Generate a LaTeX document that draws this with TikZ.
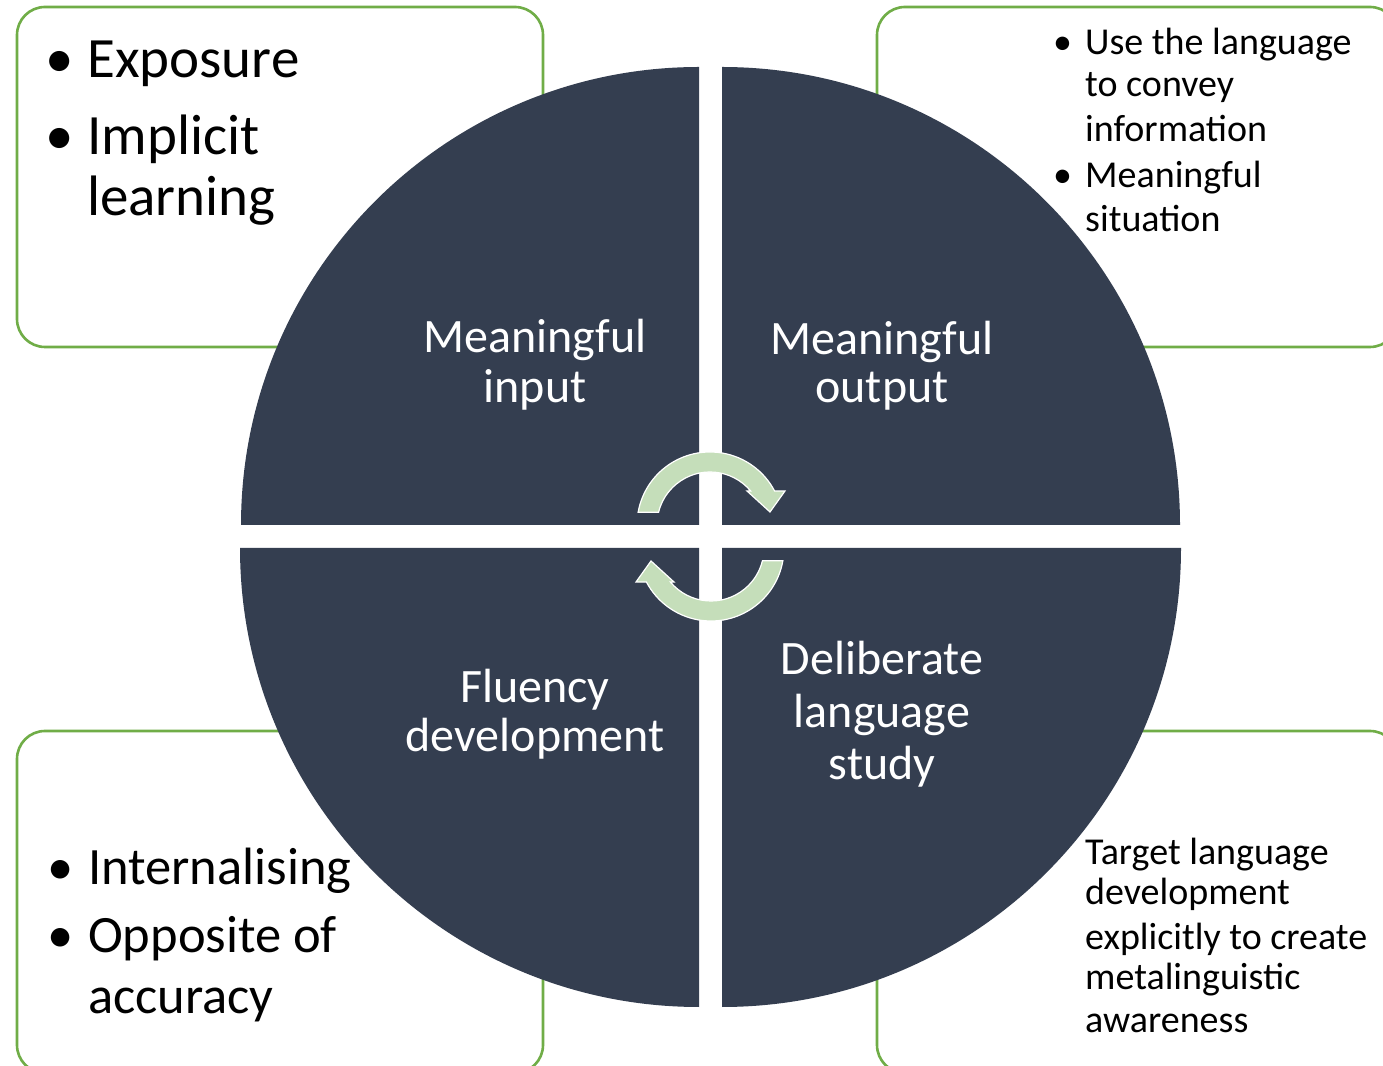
\documentclass[tikz,border=0pt]{standalone}
\usepackage{fontspec}
\setmainfont{Carlito}
\begin{document}
\begin{tikzpicture}[x=1pt,y=1pt]
\definecolor{navy}{RGB}{52,62,80}
\definecolor{lgreen}{RGB}{112,173,71}
\definecolor{arrowfill}{RGB}{197,222,186}
\tikzset{
 sidebox/.style={draw=lgreen, line width=2.6pt, rounded corners=28pt, fill=white},
 quad/.style={fill=navy},
 cyc/.style={fill=arrowfill, draw=white, line width=1.2pt, line join=miter},
 qlabel/.style={text=white, font=\fontsize{48}{50}\selectfont, anchor=base, inner sep=0pt},
 bigtxt/.style={font=\fontsize{57}{60}\selectfont, anchor=base west, inner sep=0pt},
 midtxt/.style={font=\fontsize{52.5}{54}\selectfont, anchor=base west, inner sep=0pt},
 smalltxt/.style={font=\fontsize{38}{40}\selectfont, anchor=base west, inner sep=0pt},
}
\useasboundingbox (0,0) rectangle (1383,1065);
\clip (0,0) rectangle (1383,1065);
\fill[white] (0,0) rectangle (1383,1065);
% side boxes
\draw[sidebox] (17,718) rectangle (543,1058);
\draw[sidebox] (877,718) rectangle (1398,1058);
\draw[sidebox] (17,-8) rectangle (543,334);
\draw[sidebox] (877,-8) rectangle (1398,334);
% quadrants
\fill[quad] (699,540) -- (241,540) arc[start angle=180,end angle=90,radius=458] -- cycle;
\fill[quad] (722,540) -- (722,998) arc[start angle=90,end angle=0,radius=458] -- cycle;
\fill[quad] (699,517) -- (240,517) arc[start angle=180,end angle=270,radius=459] -- cycle;
\fill[quad] (722,517) -- (722,58) arc[start angle=270,end angle=360,radius=459] -- cycle;
% cycle arrows
\filldraw[cyc] ([shift={(710,540)}]170:73) arc[start angle=170,end angle=27.8,radius=73]
  -- (785,574) -- (770,553) -- (747,574)
  -- ([shift={(710,540)}]39.9:53) arc[start angle=39.9,end angle=166,radius=53] -- cycle;
\begin{scope}[rotate around={180:(710.5,528.5)}]
\filldraw[cyc] ([shift={(710,540)}]170:73) arc[start angle=170,end angle=27.8,radius=73]
  -- (785,574) -- (770,553) -- (747,574)
  -- ([shift={(710,540)}]39.9:53) arc[start angle=39.9,end angle=166,radius=53] -- cycle;
\end{scope}
% quadrant labels
\node[qlabel] (mi1) at (535,712) {Meaningful};
\node[qlabel] (mi2) at (535,662) {input};
\node[qlabel] (mo1) at (882,710) {Meaningful};
\node[qlabel] (mo2) at (882,662) {output};
\node[qlabel] (fd1) at (535,362) {Fluency};
\node[qlabel] (fd2) at (535,313) {development};
\node[qlabel] (dl1) at (882,390) {Deliberate};
\node[qlabel] (dl2) at (882,337) {language};
\node[qlabel] (dl3) at (882,285) {study};
% top-left text
\node[bigtxt] (tlb1) at (45,987) {•};
\node[bigtxt] (tl1) at (87,987) {Exposure};
\node[bigtxt] (tlb2) at (45,910) {•};
\node[bigtxt] (tl2) at (87,910) {Implicit};
\node[bigtxt] (tl3) at (87,849) {learning};
% top-right text
\node[smalltxt] (trb1) at (1053,1010) {•};
\node[smalltxt] (tr1) at (1085,1010) {Use the language};
\node[smalltxt] (tr2) at (1085,968) {to convey};
\node[smalltxt] (tr3) at (1085,923) {information};
\node[smalltxt] (trb2) at (1053,877) {•};
\node[smalltxt] (tr4) at (1085,877) {Meaningful};
\node[smalltxt] (tr5) at (1085,833) {situation};
% bottom-left text
\node[midtxt] (blb1) at (47,180) {•};
\node[midtxt] (bl1) at (88,180) {Internalising};
\node[midtxt] (blb2) at (47,112) {•};
\node[midtxt] (bl2) at (88,112) {Opposite of};
\node[midtxt] (bl3) at (88,52) {accuracy};
% bottom-right text
\node[smalltxt] (br1) at (1085,200) {Target language};
\node[smalltxt] (br2) at (1085,160) {development};
\node[smalltxt] (br3) at (1085,115) {explicitly to create};
\node[smalltxt] (br4) at (1085,75) {metalinguistic};
\node[smalltxt] (br5) at (1085,33) {awareness};
\end{tikzpicture}
\end{document}
